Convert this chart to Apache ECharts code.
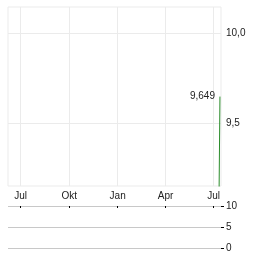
<!DOCTYPE html>
<html><head><meta charset="utf-8">
<script src="https://cdn.jsdelivr.net/npm/echarts@6/dist/echarts.min.js"></script>
<style>html,body{margin:0;padding:0;background:#fff}#c{width:264px;height:255px}</style>
</head><body><div id="c"></div>
<script>
var priceDates = ['2024-07-11', '2024-07-13'];
var priceValues = [9.0, 9.649];
var tickDates = ['2023-07-01', '2023-10-01', '2024-01-01', '2024-04-01', '2024-07-01'];
var tickLabels = ['Jul', 'Okt', 'Jan', 'Apr', 'Jul'];
var priceTicks = [9.5, 10.0];
var volumeTicks = [0, 5, 10];
var lastLabel = '9,649';
var xMin = '2023-06-07', xMax = '2024-07-15';

var ts = function (d) { return new Date(d + 'T00:00:00Z').getTime(); };
var tickTs = tickDates.map(ts);
var labelMap = {};
tickTs.forEach(function (t, i) { labelMap[t] = tickLabels[i]; });
var lastIdx = priceDates.length - 1;

var chart = echarts.init(document.getElementById('c'), null, {renderer: 'canvas'});
var font = 'Liberation Sans, Arial, sans-serif';
chart.setOption({
  animation: false,
  grid: [
    {left: 8, right: 43, top: 7, height: 179, show: true, borderColor: '#ebebeb', borderWidth: 1},
    {left: 8, right: 43, top: 206, height: 42}
  ],
  xAxis: [
    {type: 'value', gridIndex: 0, min: ts(xMin), max: ts(xMax),
     axisLine: {show: false},
     axisTick: {show: false, customValues: tickTs},
     axisLabel: {customValues: tickTs, margin: 5, fontSize: 10, fontFamily: font, color: '#222',
       formatter: function (v) { return labelMap[v] || ''; }},
     splitLine: {show: true, lineStyle: {color: '#ebebeb', width: 1}}},
    {type: 'value', gridIndex: 1, position: 'top', min: ts(xMin), max: ts(xMax),
     axisLine: {show: false, onZero: false},
     axisTick: {show: true, inside: true, length: 2, customValues: tickTs, lineStyle: {color: '#000'}},
     axisLabel: {show: false, customValues: tickTs},
     splitLine: {show: false}}
  ],
  yAxis: [
    {type: 'value', gridIndex: 0, position: 'right', min: 9.153, max: 10.146,
     axisLine: {show: false},
     axisTick: {show: false, customValues: priceTicks},
     axisLabel: {customValues: priceTicks, margin: 5, fontSize: 10, fontFamily: font, color: '#222',
       formatter: function (v) { return v.toFixed(1).replace('.', ','); }},
     splitLine: {show: true, lineStyle: {color: '#ebebeb', width: 1}}},
    {type: 'value', gridIndex: 1, position: 'right', min: 0, max: 10, interval: 5,
     axisLine: {show: false},
     axisTick: {show: true, length: 3, lineStyle: {color: '#000'}},
     axisLabel: {margin: 5, fontSize: 10, fontFamily: font, color: '#222'},
     splitLine: {show: true, lineStyle: {color: '#c8c8c8', width: 1}}}
  ],
  series: [
    {type: 'line', xAxisIndex: 0, yAxisIndex: 0, symbol: 'none', clip: true,
     lineStyle: {color: '#2a8c2a', width: 1},
     data: priceDates.map(function (d, i) { return [ts(d), priceValues[i]]; }),
     markPoint: {
       symbol: 'circle', symbolSize: 0, silent: true,
       data: [{coord: [ts(priceDates[lastIdx]), priceValues[lastIdx]]}],
       label: {show: true, position: 'left', distance: 5, formatter: lastLabel,
         fontSize: 10, fontFamily: font, color: '#222'}
     }}
  ]
});
</script></body></html>
